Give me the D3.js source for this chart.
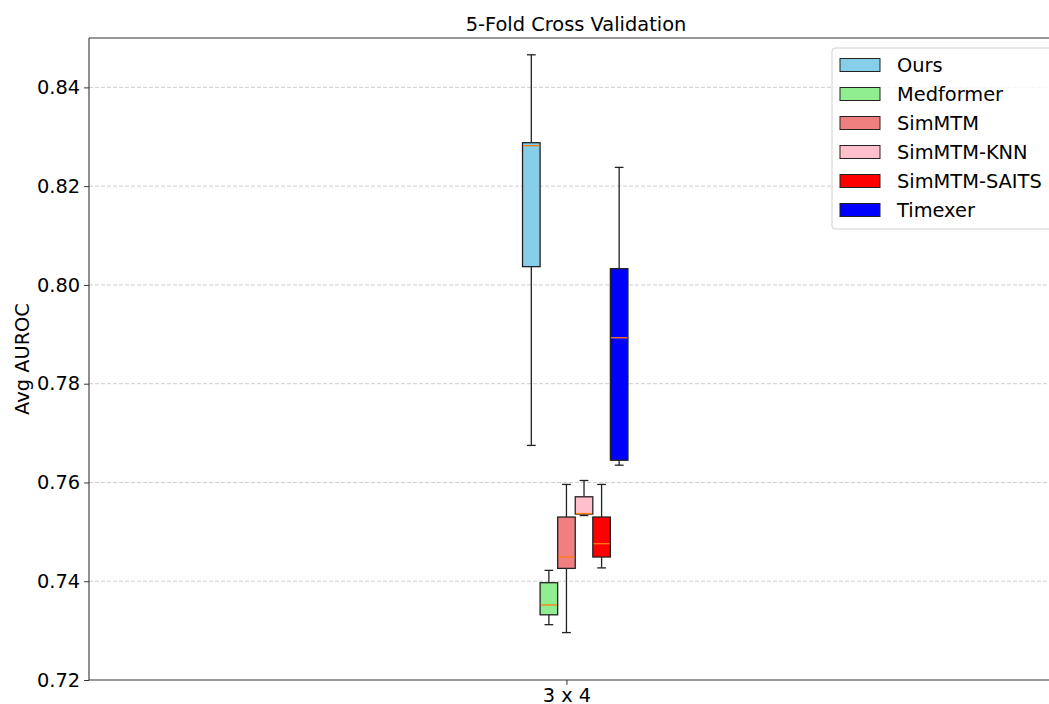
<!DOCTYPE html>
<html>
<head>
<meta charset="utf-8">
<script src="https://cdn.jsdelivr.net/npm/d3@7"></script>
<style>
  body { margin: 0; background: #fff; }
  svg { font-family: "DejaVu Sans", sans-serif; }
</style>
</head>
<body>
<div class="figure"></div>
<script>
// box stats: [whisker low, q1, median, q3, whisker high]
const models = ["Ours", "Medformer", "SimMTM", "SimMTM-KNN", "SimMTM-SAITS", "Timexer"]
const colors = ["#87ceeb", "#90ee90", "#f08080", "#ffc0cb", "#ff0000", "#0000ff"]
const lows    = [0.7675, 0.7312, 0.7296, 0.7533, 0.7427, 0.7635]
const q1s     = [0.8037, 0.7332, 0.7426, 0.7536, 0.7449, 0.7645]
const medians = [0.8282, 0.7352, 0.7449, 0.7537, 0.7476, 0.7893]
const q3s     = [0.8288, 0.7397, 0.7530, 0.7571, 0.7530, 0.8033]
const highs   = [0.8466, 0.7422, 0.7596, 0.7604, 0.7596, 0.8238]
const category = "3 x 4"
const yTicks = [0.72, 0.74, 0.76, 0.78, 0.80, 0.82, 0.84]

let width = 1049
let height = 704
let mLeft = 89, mRight = 1063, mTop = 38, mBottom = 680
let boxW = 0.0184
let fontSize = 19.4

const x = d3.scaleLinear().domain([-0.5, 0.52]).range([mLeft, mRight])
const y = d3.scaleLinear().domain([0.72, 0.85]).range([mBottom, mTop])

const boxes = models.map((m, i) => ({
    name: m, color: colors[i], pos: (i - 2) * boxW,
    lo: lows[i], q1: q1s[i], med: medians[i], q3: q3s[i], hi: highs[i]
}))

const svg = d3.select(".figure").append("svg")
    .attr("width", width)
    .attr("height", height)

// grid
svg.append("g").selectAll("line")
    .data(yTicks.slice(1))
    .join("line")
    .attr("x1", mLeft).attr("x2", width)
    .attr("y1", d => y(d)).attr("y2", d => y(d))
    .attr("stroke", "#c8c8c8")
    .attr("stroke-width", 0.9)
    .attr("stroke-dasharray", "4,2")

// y axis
const yAxis = svg.append("g")
    .attr("transform", `translate(${mLeft},0)`)
    .call(d3.axisLeft(y).tickValues(yTicks).tickFormat(d3.format(".2f")).tickSize(4.9).tickPadding(4))
yAxis.select(".domain").remove()
yAxis.selectAll("text").attr("font-size", fontSize).attr("fill", "#000")
    .attr("font-family", "DejaVu Sans")
yAxis.selectAll("line").attr("stroke", "#333")

// x axis
const xAxis = svg.append("g")
    .attr("transform", `translate(0,${mBottom})`)
    .call(d3.axisBottom(x).tickValues([0]).tickFormat(() => category).tickSize(4.9).tickPadding(3.5))
xAxis.select(".domain").remove()
xAxis.selectAll("text").attr("font-size", fontSize).attr("fill", "#000")
    .attr("font-family", "DejaVu Sans")
xAxis.selectAll("line").attr("stroke", "#333")

// boxes
const g = svg.append("g").selectAll("g")
    .data(boxes)
    .join("g")

g.append("line")
    .attr("x1", d => x(d.pos)).attr("x2", d => x(d.pos))
    .attr("y1", d => y(d.hi)).attr("y2", d => y(d.q3))
    .attr("stroke", "#222").attr("stroke-width", 1.3)
g.append("line")
    .attr("x1", d => x(d.pos)).attr("x2", d => x(d.pos))
    .attr("y1", d => y(d.q1)).attr("y2", d => y(d.lo))
    .attr("stroke", "#222").attr("stroke-width", 1.3)
// caps
g.selectAll(".cap")
    .data(d => [d.lo, d.hi].map(v => ({v: v, pos: d.pos})))
    .join("line")
    .attr("class", "cap")
    .attr("x1", d => x(d.pos - boxW / 4)).attr("x2", d => x(d.pos + boxW / 4))
    .attr("y1", d => y(d.v)).attr("y2", d => y(d.v))
    .attr("stroke", "#222").attr("stroke-width", 1.3)

g.append("rect")
    .attr("x", d => x(d.pos - boxW / 2))
    .attr("width", d => x(d.pos + boxW / 2) - x(d.pos - boxW / 2))
    .attr("y", d => y(d.q3))
    .attr("height", d => y(d.q1) - y(d.q3))
    .attr("fill", d => d.color)
    .attr("stroke", "#222").attr("stroke-width", 1.3)

g.append("line")
    .attr("x1", d => x(d.pos - boxW / 2) + 0.6).attr("x2", d => x(d.pos + boxW / 2) - 0.6)
    .attr("y1", d => y(d.med)).attr("y2", d => y(d.med))
    .attr("stroke", "#ff7f0e").attr("stroke-width", 1.3)

// spines
svg.append("line").attr("x1", mLeft).attr("x2", mLeft).attr("y1", mTop).attr("y2", mBottom)
    .attr("stroke", "#333").attr("stroke-width", 1.1)
svg.append("line").attr("x1", mLeft).attr("x2", width).attr("y1", mBottom).attr("y2", mBottom)
    .attr("stroke", "#333").attr("stroke-width", 1.1)
svg.append("line").attr("x1", mLeft).attr("x2", width).attr("y1", mTop).attr("y2", mTop)
    .attr("stroke", "#333").attr("stroke-width", 1.1)

// title & y label
svg.append("text")
    .attr("x", (mLeft + mRight) / 2).attr("y", 31)
    .attr("text-anchor", "middle")
    .attr("font-size", fontSize)
    .text("5-Fold Cross Validation")

svg.append("text")
    .attr("transform", `translate(29,${(mTop + mBottom) / 2}) rotate(-90)`)
    .attr("text-anchor", "middle")
    .attr("font-size", fontSize)
    .text("Avg AUROC")

// legend
const legend = svg.append("g").attr("transform", "translate(832,48)")
legend.append("rect")
    .attr("width", 225).attr("height", 181)
    .attr("rx", 3)
    .attr("fill", "#fff").attr("fill-opacity", 0.8)
    .attr("stroke", "#d0d0d0")

const item = legend.selectAll(".item")
    .data(boxes)
    .join("g")
    .attr("class", "item")
    .attr("transform", (d, i) => `translate(0,${17 + i * 29})`)

item.append("rect")
    .attr("x", 8).attr("y", -6.5)
    .attr("width", 40).attr("height", 13)
    .attr("fill", d => d.color)
    .attr("stroke", "#222").attr("stroke-width", 1)

item.append("text")
    .attr("x", 65).attr("y", 7)
    .attr("font-size", fontSize)
    .text(d => d.name)
</script>
</body>
</html>
